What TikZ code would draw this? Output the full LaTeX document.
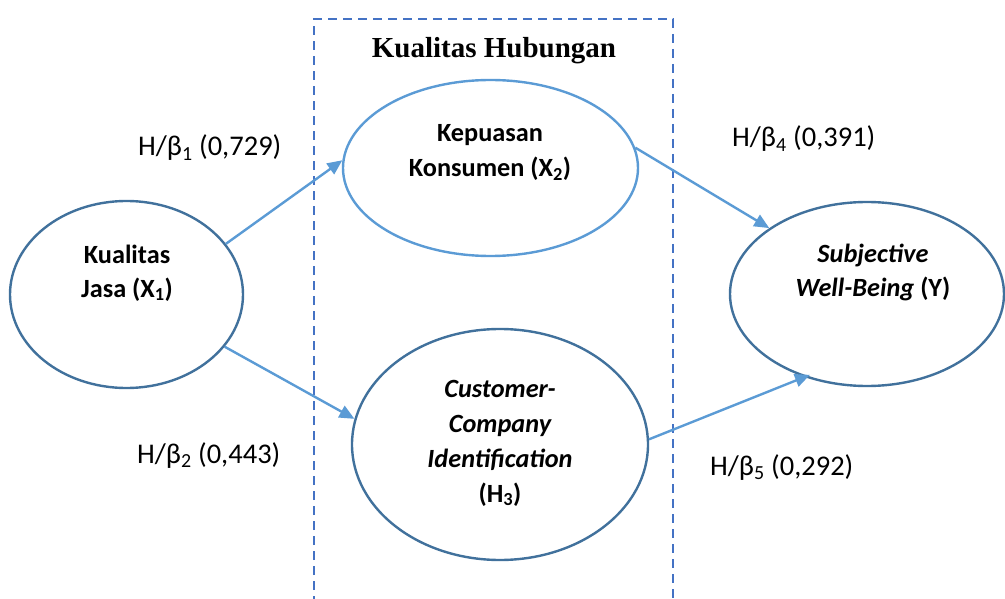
\documentclass[tikz,border=0pt]{standalone}
\usepackage{fontspec}
\setmainfont{Carlito}
\newfontfamily\titlefont{Liberation Serif}
\usetikzlibrary{arrows.meta,shapes.geometric}
\definecolor{dashblue}{HTML}{4472C4}
\definecolor{lightblue}{HTML}{5B9BD5}
\definecolor{darkblue}{HTML}{41719C}
\tikzset{
  ell/.style={ellipse, draw=darkblue, line width=2.4pt, inner sep=0pt, fill=none},
  ellight/.style={ell, draw=lightblue},
  txt/.style={anchor=base, inner sep=0pt, font=\fontsize{26.3}{31}\selectfont\bfseries},
  lab/.style={anchor=base west, inner sep=0pt, font=\fontsize{28.5}{33}\selectfont},
  conn/.style={draw=lightblue, line width=2.4pt, -{Triangle[length=15pt,width=13pt]}},
}
\begin{document}
\begin{tikzpicture}[x=1pt,y=-1pt]
\useasboundingbox (0,0) rectangle (1005,599);
% dashed frame
\draw[dashblue, line width=2.8pt, dash pattern=on 9pt off 6pt] (314,620) -- (314,19) -- (673,19) -- (673,620);
\node[inner sep=0pt, anchor=base, font=\titlefont\fontsize{29}{34}\selectfont\bfseries] (title) at (494,58) {Kualitas Hubungan};
% ellipses
\node[ell, minimum width=233pt, minimum height=187pt] (jasa) at (126.5,294.5) {};
\node[ellight, minimum width=295pt, minimum height=176pt] (kep) at (490.5,168) {};
\node[ell, minimum width=296pt, minimum height=231pt] (cci) at (500,444.5) {};
\node[ell, minimum width=274pt, minimum height=184pt] (swb) at (867,294) {};
% texts
\node[txt] (jasa1) at (127,263) {Kualitas};
\node[txt] (jasa2) at (127,297) {Jasa (X\textsubscript{1})};
\node[txt] (kep1) at (490,142) {Kepuasan};
\node[txt] (kep2) at (490,177) {Konsumen (X\textsubscript{2})};
\node[txt] (cci1) at (500,397) {\itshape Customer-};
\node[txt] (cci2) at (500,432) {\itshape Company};
\node[txt] (cci3) at (500,467) {\itshape Identification};
\node[txt] (cci4) at (500,502) {(H\textsubscript{3})};
\node[txt] (swb1) at (873,262) {\itshape Subjective};
\node[txt] (swb2) at (873,296) {\textit{Well-Being} (Y)};
% labels
\node[lab] (b1) at (138,156) {H/β\textsubscript{1} (0,729)};
\node[lab] (b2) at (137,463) {H/β\textsubscript{2} (0,443)};
\node[lab] (b4) at (732,147) {H/β\textsubscript{4} (0,391)};
\node[lab] (b5) at (710,475) {H/β\textsubscript{5} (0,292)};
% connectors
\draw[conn] (jasa.27) -- (kep.177);
\draw[conn] (jasa.-28) -- (cci.170);
\draw[conn] (kep.8) -- (swb.146);
\draw[conn, shorten >=-6pt] (cci.2.5) -- (swb.-127);
\end{tikzpicture}
\end{document}
